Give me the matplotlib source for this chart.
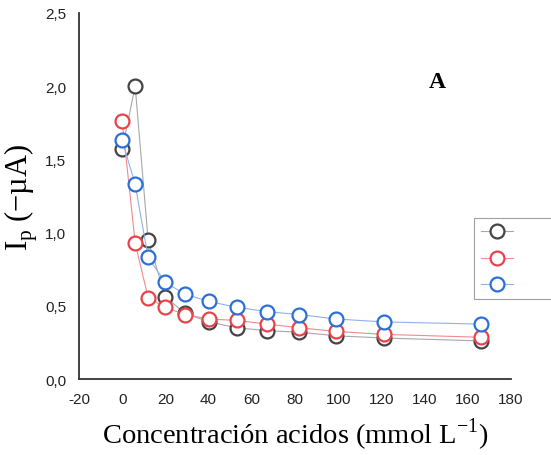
import matplotlib.pyplot as plt
from matplotlib.ticker import FuncFormatter

plt.rcParams['axes.unicode_minus'] = False

conc = [0, 6, 12, 20, 29, 40, 53, 67, 82, 99, 121, 166]
ip_black = [1.57, 2.00, 0.95, 0.56, 0.45, 0.39, 0.35, 0.33, 0.32, 0.295, 0.28, 0.26]
ip_red = [1.76, 0.93, 0.555, 0.49, 0.44, 0.41, 0.40, 0.375, 0.35, 0.325, 0.305, 0.285]
ip_blue = [1.63, 1.33, 0.83, 0.66, 0.58, 0.53, 0.49, 0.46, 0.44, 0.41, 0.39, 0.375]
xticks = list(range(-20, 181, 20))
yticks = [0, 0.5, 1.0, 1.5, 2.0, 2.5]

W, H = 551, 456
fig = plt.figure(figsize=(W / 100, H / 100), dpi=100)
ax = fig.add_axes([79 / W, 1 - 380 / H, 432 / W, 366 / H])

series = [
    (ip_black, '#444444', '#a8a8a8'),
    (ip_red, '#e8434a', '#f08a8e'),
    (ip_blue, '#2b6fd8', '#8fb2e8'),
]
handles = []
for vals, mc, lc in series:
    h, = ax.plot(conc, vals, color=lc, linewidth=0.8, marker='o', markersize=10,
                 markerfacecolor='white', markeredgecolor=mc, markeredgewidth=1.6)
    handles.append(h)

ax.set_xlim(-20, 180)
ax.set_ylim(0, 2.5)
ax.set_xticks(xticks)
ax.set_yticks(yticks)
ax.yaxis.set_major_formatter(FuncFormatter(lambda v, p: f"{v:.1f}".replace('.', ',')))
ax.tick_params(length=0, pad=9, labelsize=11, labelcolor='#222222')
for lab in ax.get_xticklabels() + ax.get_yticklabels():
    lab.set_fontfamily('Liberation Sans')
for s in ['top', 'right']:
    ax.spines[s].set_visible(False)
for s in ['left', 'bottom']:
    ax.spines[s].set_color('#333333')
    ax.spines[s].set_linewidth(1.3)

ax.set_xlabel('Concentración acidos (mmol L$^{\\mathregular{-1}}$)', family='Liberation Serif',
              fontsize=20.5, labelpad=7)
ax.set_ylabel('I$_{\\mathregular{p}}$ (−µA)', family='Liberation Serif', fontsize=22, labelpad=4)
fig.text(437 / W, 1 - 83 / H, 'A', family='Liberation Serif', fontweight='bold',
         fontsize=17, ha='center', va='center')

leg = fig.legend(handles, ['        ', '        ', '        '], loc='upper left',
                 bbox_to_anchor=(474 / W, 1 - 219 / H), frameon=True, fancybox=False,
                 edgecolor='#888888', handlelength=2.2, handletextpad=0.5,
                 labelspacing=0.78, borderpad=0.45, borderaxespad=0, fontsize=10.5)
leg.get_frame().set_linewidth(0.8)

fig.savefig('out.png', dpi=100)
